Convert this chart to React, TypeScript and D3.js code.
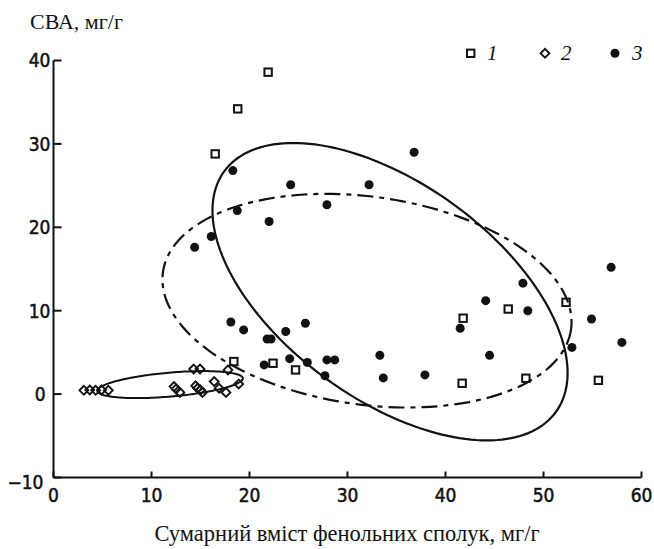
import React, { useEffect } from 'react';
import * as d3 from 'd3';

const W = 654;
const H = 549;

// серія 1 (квадрати): [сумарний вміст фенолів, СВА]
const series1: [number, number][] = [
  [16.5, 28.8], [18.8, 34.2], [21.9, 38.6], [18.4, 3.9], [22.4, 3.7], [24.7, 2.9],
  [41.8, 9.1], [46.4, 10.2], [52.3, 11.0], [41.7, 1.3], [48.2, 1.9], [55.6, 1.65],
];

// серія 2 (ромби)
const series2: [number, number][] = [
  [3.1, 0.45], [3.7, 0.5], [4.3, 0.45], [4.9, 0.5], [5.6, 0.45],
  [14.3, 3.0], [14.95, 3.0], [17.8, 2.9],
  [12.3, 0.9], [12.5, 0.6], [12.9, 0.2],
  [14.5, 1.0], [14.7, 0.7], [15.0, 0.5], [15.2, 0.2],
  [16.4, 1.5], [16.9, 0.7], [17.6, 0.2], [18.9, 1.2],
];

// серія 3 (точки)
const series3: [number, number][] = [
  [18.3, 26.8], [24.2, 25.1], [18.75, 22.0], [22.0, 20.7], [27.9, 22.7], [16.1, 18.9],
  [14.4, 17.6], [18.1, 8.65], [19.4, 7.7], [25.7, 8.5], [23.7, 7.5], [21.8, 6.6],
  [22.2, 6.6], [21.5, 3.5], [24.1, 4.25], [25.9, 3.8], [27.9, 4.1], [28.7, 4.1],
  [27.7, 2.2], [36.8, 29.0], [32.2, 25.1], [56.9, 15.2], [47.9, 13.3], [44.1, 11.2],
  [48.4, 10.0], [54.9, 9.0], [41.5, 7.9], [58.0, 6.2], [52.9, 5.6], [44.5, 4.65],
  [33.3, 4.65], [33.65, 1.94], [37.9, 2.3],
];

// еліпси розсіювання: центр і два спряжені півдіаметри (в одиницях осей)
const ellipseSmall = { c: [11.9, 1.14], a: [7.42, 0.76], b: [0.107, -1.43] };
const ellipseSolid = { c: [34.34, 12.28], a: [16.92, -14.43], b: [6.48, 10.47] };
const ellipseDash = { c: [31.99, 11.2], a: [20.82, -3.44], b: [-1.48, -12.34] };

const xTicks = [0, 10, 20, 30, 40, 50, 60];
const yTicks = [-10, 0, 10, 20, 30, 40];
const legendLabels = ['1', '2', '3'];

const x = d3.scaleLinear().domain([0, 60]).range([53.5, 641.5]);
const y = d3.scaleLinear().domain([-10, 40]).range([477.5, 60.5]);

const ellipsePath = (e: { c: number[]; a: number[]; b: number[] }) => {
  const pts: [number, number][] = d3.range(0, 2 * Math.PI, Math.PI / 90).map((t) => [
    e.c[0] + Math.cos(t) * e.a[0] + Math.sin(t) * e.b[0],
    e.c[1] + Math.cos(t) * e.a[1] + Math.sin(t) * e.b[1],
  ]);
  return d3.line<[number, number]>()
    .x((d) => x(d[0]))
    .y((d) => y(d[1]))
    .curve(d3.curveLinearClosed)(pts) as string;
};

const Square = ({ cx, cy }: { cx: number; cy: number }) => (
  <rect x={cx - 3.7} y={cy - 3.7} width={7.4} height={7.4} fill="none" stroke="#111" strokeWidth={2} />
);
const Diamond = ({ cx, cy }: { cx: number; cy: number }) => (
  <path d={`M${cx},${cy - 4.4}L${cx + 4.4},${cy}L${cx},${cy + 4.4}L${cx - 4.4},${cy}Z`} fill="none" stroke="#111" strokeWidth={1.9} />
);
const Dot = ({ cx, cy }: { cx: number; cy: number }) => <circle cx={cx} cy={cy} r={4.5} fill="#111" />;

const tickFont = { fontFamily: "'DejaVu Sans Condensed', 'DejaVu Sans', sans-serif", fontStretch: 'condensed', fontSize: 19 } as const;
const serif = "'Liberation Serif', 'Times New Roman', serif";

export default function App() {
  useEffect(() => {
    document.body.style.margin = '0';
  }, []);

  return (
    <svg width={W} height={H} style={{ display: 'block', background: '#fff' }}>
      {/* вісі */}
      <g stroke="#111" strokeWidth={2} fill="none">
        <line x1={x(0)} x2={x(60)} y1={y(-10)} y2={y(-10)} />
        <line x1={x(0)} x2={x(0)} y1={y(-10)} y2={y(40)} />
        {xTicks.map((t) => (
          <line key={'xt' + t} x1={x(t)} x2={x(t)} y1={y(-10)} y2={y(-10) - 6} />
        ))}
        {yTicks.map((t) => (
          <line key={'yt' + t} x1={x(0)} x2={x(0) + 8} y1={y(t)} y2={y(t)} />
        ))}
      </g>
      <g {...tickFont} fill="#111" stroke="#111" strokeWidth={0.5}>
        {xTicks.map((t) => (
          <text key={'xl' + t} x={x(t)} y={y(-10) + 24} textAnchor="middle">{t}</text>
        ))}
        {yTicks.map((t) => (
          <text
            key={'yl' + t}
            x={x(0) - 3 - (t === 0 ? 5 : t === -10 ? 7 : 0)}
            y={y(t) + (t === -10 ? 5 : 0)}
            dy="0.36em"
            textAnchor="end"
          >
            {t < 0 ? '\u2212' + Math.abs(t) : t}
          </text>
        ))}
      </g>

      {/* еліпси */}
      <path d={ellipsePath(ellipseSmall)} fill="none" stroke="#111" strokeWidth={2} />
      <path d={ellipsePath(ellipseSolid)} fill="none" stroke="#111" strokeWidth={2.2} />
      <path d={ellipsePath(ellipseDash)} fill="none" stroke="#111" strokeWidth={2.2} strokeDasharray="16,6,5,6" />

      {/* точки */}
      {series3.map((d, i) => <Dot key={'c' + i} cx={x(d[0])} cy={y(d[1])} />)}
      {series2.map((d, i) => <Diamond key={'d' + i} cx={x(d[0])} cy={y(d[1])} />)}
      {series1.map((d, i) => <Square key={'s' + i} cx={x(d[0])} cy={y(d[1])} />)}

      {/* легенда */}
      <Square cx={470.7} cy={53.3} />
      <Diamond cx={545} cy={53.3} />
      <Dot cx={615} cy={53.3} />
      {legendLabels.map((l, i) => (
        <text key={'lg' + i} x={[487, 561, 632][i]} y={60} fontFamily={serif} fontStyle="italic" fontSize={21} fill="#111">{l}</text>
      ))}

      {/* підписи осей */}
      <text x={30} y={29} fontFamily={serif} fontSize={22} fill="#111">СВА, мг/г</text>
      <text x={347} y={541} fontFamily={serif} fontSize={22.5} fill="#111" textAnchor="middle">
        Сумарний вміст фенольних сполук, мг/г
      </text>
    </svg>
  );
}
